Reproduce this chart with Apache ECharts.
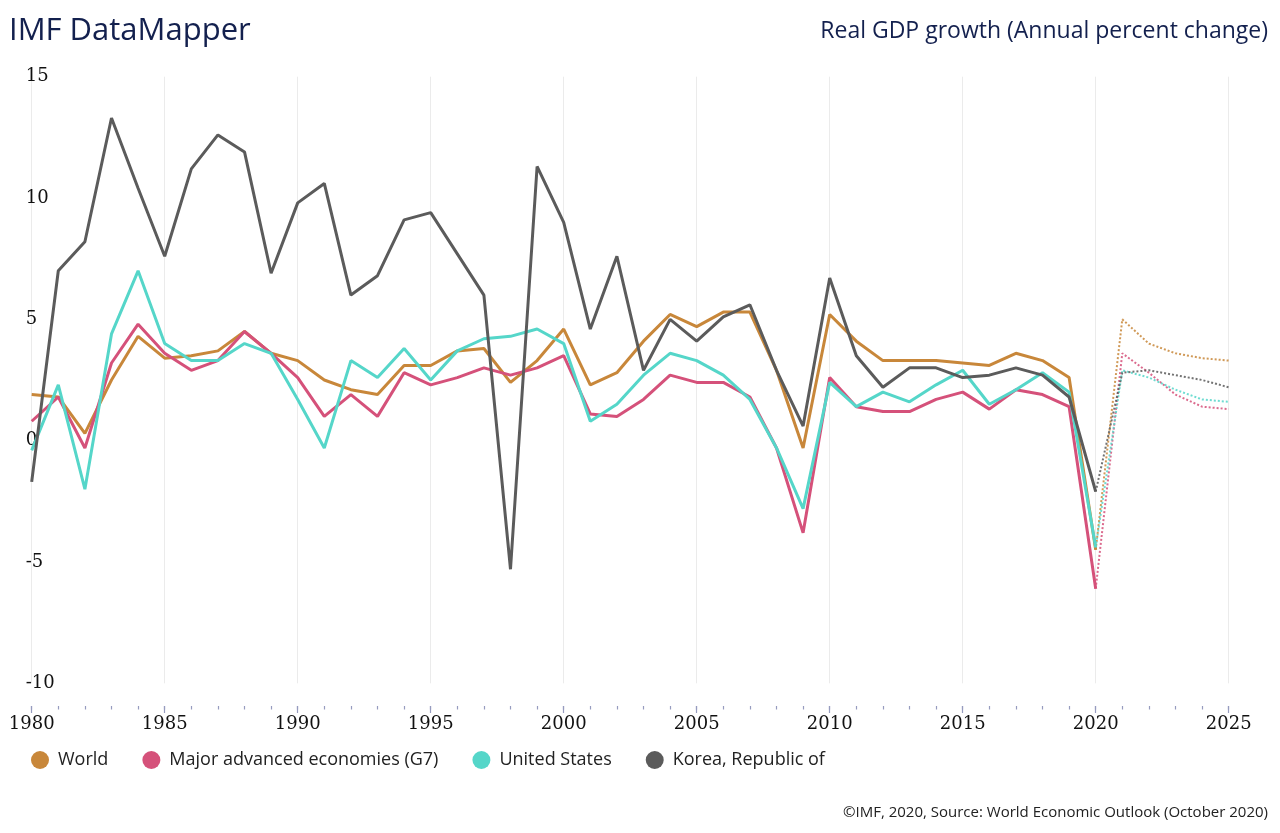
<!DOCTYPE html>
<html>
<head>
<meta charset="utf-8">
<title>Real GDP growth</title>
<script src="https://cdn.jsdelivr.net/npm/echarts@6/dist/echarts.min.js"></script>
<style>
  html, body { margin: 0; padding: 0; background: #fff; }
  #chart { width: 1280px; height: 833px; }
</style>
</head>
<body>
<div id="chart"></div>
<script>
// years on the x axis
var years = [1980,1981,1982,1983,1984,1985,1986,1987,1988,1989,
             1990,1991,1992,1993,1994,1995,1996,1997,1998,1999,
             2000,2001,2002,2003,2004,2005,2006,2007,2008,2009,
             2010,2011,2012,2013,2014,2015,2016,2017,2018,2019,
             2020,2021,2022,2023,2024,2025];
var lastActual = 2020; // after this year the values are projections (dotted)

var world = [1.9,1.8,0.3,2.5,4.3,3.4,3.5,3.7,4.5,3.6,
             3.3,2.5,2.1,1.9,3.1,3.1,3.7,3.8,2.4,3.3,
             4.6,2.3,2.8,4.1,5.2,4.7,5.3,5.3,2.9,-0.3,
             5.2,4.1,3.3,3.3,3.3,3.2,3.1,3.6,3.3,2.6,
             -4.5,5.0,4.0,3.6,3.4,3.3];
var g7    = [0.8,1.8,-0.3,3.2,4.8,3.6,2.9,3.3,4.5,3.6,
             2.6,1.0,1.9,1.0,2.8,2.3,2.6,3.0,2.7,3.0,
             3.5,1.1,1.0,1.7,2.7,2.4,2.4,1.8,-0.3,-3.8,
             2.6,1.4,1.2,1.2,1.7,2.0,1.3,2.1,1.9,1.4,
             -6.1,3.6,2.8,1.9,1.4,1.3];
var usa   = [-0.4,2.3,-2.0,4.4,7.0,4.0,3.3,3.3,4.0,3.6,
             1.7,-0.3,3.3,2.6,3.8,2.5,3.7,4.2,4.3,4.6,
             4.0,0.8,1.5,2.7,3.6,3.3,2.7,1.7,-0.3,-2.8,
             2.4,1.4,2.0,1.6,2.3,2.9,1.5,2.1,2.8,2.0,
             -4.4,2.9,2.6,2.1,1.7,1.6];
var korea = [-1.7,7.0,8.2,13.3,10.4,7.6,11.2,12.6,11.9,6.9,
             9.8,10.6,6.0,6.8,9.1,9.4,7.7,6.0,-5.3,11.3,
             9.0,4.6,7.6,2.9,5.0,4.1,5.1,5.6,2.9,0.6,
             6.7,3.5,2.2,3.0,3.0,2.6,2.7,3.0,2.7,1.8,
             -2.1,2.8,2.9,2.7,2.5,2.2];

var names  = ['World', 'Major advanced economies (G7)', 'United States', 'Korea, Republic of'];
var values = [world, g7, usa, korea];
var colors = ['#c8873a', '#d5517a', '#55d6c9', '#5b5b5b'];

function actualPart(arr){
  var out = [];
  for (var i = 0; i < years.length; i++) {
    if (years[i] <= lastActual) out.push([years[i], arr[i]]);
  }
  return out;
}
function projPart(arr){
  var out = [];
  for (var i = 0; i < years.length; i++) {
    if (years[i] >= lastActual) out.push([years[i], arr[i]]);
  }
  return out;
}

var series = [];
for (var k = 0; k < names.length; k++) {
  series.push({
    name: names[k],
    type: 'line',
    data: actualPart(values[k]),
    symbol: 'none',
    color: colors[k],
    lineStyle: { width: 3, color: colors[k] },
    z: 3 + k
  });
  series.push({
    name: names[k],
    type: 'line',
    data: projPart(values[k]),
    symbol: 'none',
    color: colors[k],
    lineStyle: { width: 2, color: colors[k], type: [2, 2], opacity: 0.85 },
    z: 2
  });
}
// empty series for the two thin grids that only carry the year ticks
series.push({ type: 'line', xAxisIndex: 1, yAxisIndex: 1, data: [], silent: true });
series.push({ type: 'line', xAxisIndex: 2, yAxisIndex: 2, data: [], silent: true });

var tickColor = '#969cbf';

var dom = document.getElementById('chart');
var myChart = echarts.init(dom);
var option = {
  backgroundColor: '#fff',
  animation: false,
  title: [
    {
      text: 'IMF DataMapper',
      left: 4, top: 11,
      textStyle: { fontFamily: 'Open Sans', fontSize: 31, fontWeight: 'normal', color: '#13204e' }
    },
    {
      text: 'Real GDP growth (Annual percent change)',
      right: 7, top: 15,
      textStyle: { fontFamily: 'Open Sans', fontSize: 23, fontWeight: 'normal', color: '#13204e' }
    },
    {
      text: '©IMF, 2020, Source: World Economic Outlook (October 2020)',
      right: 7, top: 800,
      textStyle: { fontFamily: 'Open Sans', fontSize: 15, fontWeight: 'normal', color: '#222' }
    }
  ],
  legend: {
    data: names,
    left: 26, top: 746,
    icon: 'circle',
    itemWidth: 18, itemHeight: 18,
    itemGap: 34,
    textStyle: { fontFamily: 'Open Sans', fontSize: 18, color: '#222', padding: [0, 0, 0, 4] }
  },
  grid: [
    { left: 31.7, right: 51.3, top: 76.7, bottom: 149.7 },
    { left: 31.7, right: 51.3, top: 706, height: 7 },
    { left: 31.7, right: 51.3, top: 706, height: 3.5 }
  ],
  xAxis: [
    {
      type: 'value', gridIndex: 0,
      min: 1980, max: 2025, interval: 5,
      axisLine: { show: false },
      axisTick: { show: false },
      axisLabel: { show: false },
      splitLine: { show: true, lineStyle: { color: '#ebebeb', width: 1 } }
    },
    {
      // major ticks every 5 years + year labels
      type: 'value', gridIndex: 1, position: 'bottom',
      min: 1980, max: 2025, interval: 5,
      axisLine: { show: false },
      axisTick: { show: false },
      splitLine: { show: true, lineStyle: { color: tickColor, width: 1.2 } },
      axisLabel: {
        margin: 2,
        color: '#111',
        fontFamily: 'DejaVu Serif', fontSize: 18,
        formatter: function (v) { return String(v); }
      }
    },
    {
      // minor ticks every year
      type: 'value', gridIndex: 2,
      min: 1980, max: 2025, interval: 5,
      axisLine: { show: false },
      axisTick: { show: false },
      axisLabel: { show: false },
      splitLine: { show: true, lineStyle: { color: tickColor, width: 1.2 } },
      minorTick: { splitNumber: 5 },
      minorSplitLine: { show: true, lineStyle: { color: tickColor, width: 1.2 } }
    }
  ],
  yAxis: [
    {
      type: 'value', gridIndex: 0,
      min: -10, max: 15, interval: 5,
      axisLine: { show: false },
      axisTick: { show: false },
      splitLine: { show: false },
      axisLabel: {
        align: 'left', margin: 6,
        fontFamily: 'DejaVu Serif', fontSize: 18, color: '#111'
      }
    },
    { type: 'value', gridIndex: 1, min: 0, max: 1, show: false },
    { type: 'value', gridIndex: 2, min: 0, max: 1, show: false }
  ],
  series: series
};
if (option && typeof option === 'object') {
  myChart.setOption(option, true);
}
</script>
</body>
</html>
